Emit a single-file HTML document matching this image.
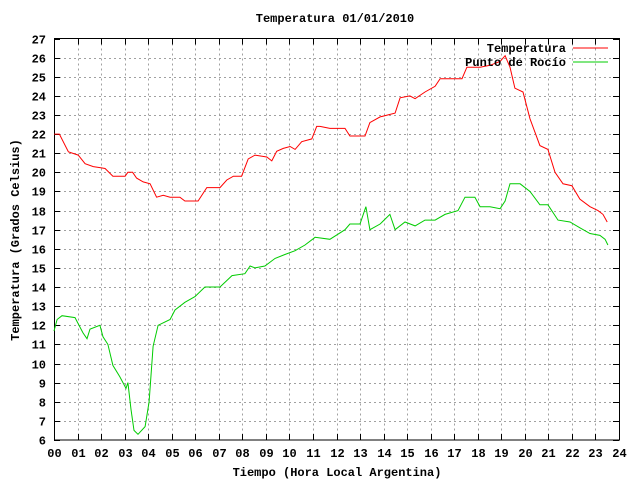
<!DOCTYPE html>
<html><head><meta charset="utf-8"><style>
body{margin:0;background:#fff;}
svg text{font-family:"Liberation Mono","DejaVu Sans Mono",monospace;font-weight:bold;font-size:12px;fill:#000;}
</style></head><body>
<svg id="c" width="640" height="480" xmlns="http://www.w3.org/2000/svg">
<rect width="640" height="480" fill="#fff"/>
<g id="grid"></g>
<g id="axes"></g>
<g id="series"></g>
<text x="335" y="22" text-anchor="middle">Temperatura 01/01/2010</text>
<text x="337" y="476" text-anchor="middle">Tiempo (Hora Local Argentina)</text>
<text transform="translate(19,240) rotate(-90)" text-anchor="middle">Temperatura (Grados Celsius)</text>
<g>
<text x="566" y="52" text-anchor="end">Temperatura</text>
<line x1="573" y1="48" x2="608" y2="48" stroke="#f00"/>
<text x="566" y="66" text-anchor="end">Punto de Rocío</text>
<line x1="573" y1="62" x2="608" y2="62" stroke="#0c0"/>
</g>
</svg>
<script>
const xTicks=[0,1,2,3,4,5,6,7,8,9,10,11,12,13,14,15,16,17,18,19,20,21,22,23,24];
const yTicks=[6,7,8,9,10,11,12,13,14,15,16,17,18,19,20,21,22,23,24,25,26,27];
const tempHours=[0.01,0.23,0.61,1.03,1.32,1.67,1.95,2.17,2.5,3.02,3.14,3.34,3.51,3.79,4.08,4.36,4.64,4.93,5.35,5.56,6.12,6.49,7.05,7.34,7.62,7.97,8.25,8.54,9.04,9.25,9.46,9.74,10.03,10.24,10.52,10.95,11.16,11.3,11.72,12.36,12.57,13.21,13.42,13.85,14.49,14.7,15.12,15.34,15.76,16.19,16.4,17.33,17.54,18.1,18.52,18.95,19.16,19.37,19.58,19.92,20.22,20.64,20.98,21.28,21.62,22.0,22.34,22.77,23.11,23.32,23.5];
const tempValues=[22.0,22.0,21.07,20.9,20.45,20.3,20.25,20.2,19.8,19.8,20.0,20.0,19.7,19.5,19.4,18.7,18.8,18.7,18.7,18.5,18.5,19.2,19.2,19.6,19.8,19.8,20.7,20.9,20.8,20.6,21.1,21.25,21.35,21.2,21.6,21.75,22.4,22.4,22.3,22.3,21.9,21.9,22.6,22.9,23.1,23.9,24.0,23.85,24.2,24.5,24.9,24.9,25.5,25.5,25.6,25.8,26.1,25.5,24.4,24.2,22.8,21.4,21.2,20.0,19.4,19.3,18.6,18.2,18.0,17.8,17.4];
const dewHours=[0,0.13,0.34,0.89,1.23,1.4,1.53,1.95,2.08,2.29,2.5,2.8,3.06,3.14,3.27,3.4,3.57,3.87,4.04,4.21,4.42,4.93,5.14,5.56,5.99,6.41,7.05,7.56,8.11,8.33,8.54,8.96,9.39,9.81,10.24,10.66,11.09,11.72,12.36,12.57,13.0,13.25,13.42,13.85,14.27,14.49,14.91,15.34,15.76,16.19,16.61,17.16,17.46,17.88,18.1,18.52,18.95,19.16,19.37,19.8,20.22,20.64,20.98,21.41,21.92,22.34,22.77,23.19,23.41,23.53];
const dewValues=[11.7,12.3,12.5,12.4,11.6,11.3,11.8,12.0,11.4,11.0,9.9,9.3,8.7,9.0,7.6,6.5,6.3,6.7,8.0,10.9,12.0,12.3,12.8,13.2,13.5,14.0,14.0,14.6,14.7,15.1,15.0,15.1,15.5,15.7,15.9,16.2,16.6,16.5,17.0,17.3,17.3,18.2,17.0,17.3,17.8,17.0,17.4,17.2,17.5,17.5,17.8,18.0,18.7,18.7,18.2,18.2,18.1,18.5,19.4,19.4,19.0,18.3,18.3,17.5,17.4,17.1,16.8,16.7,16.5,16.2];
const L=54,R=619,T=38.5,B=440;
const xs=h=>L+(h-0)/(24-0)*(R-L);
const ys=v=>B-(v-6)/(27-6)*(B-T);
const NS="http://www.w3.org/2000/svg";
function mk(tag,attrs,parent){const e=document.createElementNS(NS,tag);for(const k in attrs)e.setAttribute(k,attrs[k]);parent.appendChild(e);return e;}
const grid=document.getElementById('grid'),axes=document.getElementById('axes'),series=document.getElementById('series');
xTicks.forEach((t,i)=>{const x=Math.round(xs(t))+0.5;
 if(i>0&&i<xTicks.length-1){const g=mk('line',{x1:x,y1:T,x2:x,y2:B,stroke:'#a0a0a0','stroke-dasharray':'2,3'},grid);
 
 }
 const a=mk('line',{x1:x,y1:B,x2:x,y2:B-6,stroke:'#000'},axes);
 const b=mk('line',{x1:x,y1:T,x2:x,y2:T+6,stroke:'#000'},axes);
 const tx=mk('text',{x:x,y:B+17,'text-anchor':'middle'},axes);tx.textContent=String(t).padStart(2,'0');
 
 
});
yTicks.forEach((t,i)=>{const y=Math.round(ys(t))+0.5;
 if(i>0&&i<yTicks.length-1){const g=mk('line',{x1:L,y1:y,x2:R,y2:y,stroke:'#a0a0a0','stroke-dasharray':'2,3'},grid);
 
 }
 const a=mk('line',{x1:L,y1:y,x2:L+6,y2:y,stroke:'#000'},axes);
 const b=mk('line',{x1:R,y1:y,x2:R-6,y2:y,stroke:'#000'},axes);
 const tx=mk('text',{x:L-8,y:y+4,'text-anchor':'end'},axes);tx.textContent=t;
 
 
});
const fr=mk('rect',{x:L+0.5,y:T,width:R-L,height:B-T,fill:'none',stroke:'#000'},axes);


function line(hs,vs,color,name){
 const p=mk('polyline',{points:hs.map((h,i)=>xs(h).toFixed(1)+','+ys(vs[i]).toFixed(1)).join(' '),fill:'none',stroke:color,'stroke-width':1},series);
 
 
}
line(tempHours,tempValues,'#f00','temperatura-line');
line(dewHours,dewValues,'#0c0','punto-de-rocio-line');
</script>
</body></html>
